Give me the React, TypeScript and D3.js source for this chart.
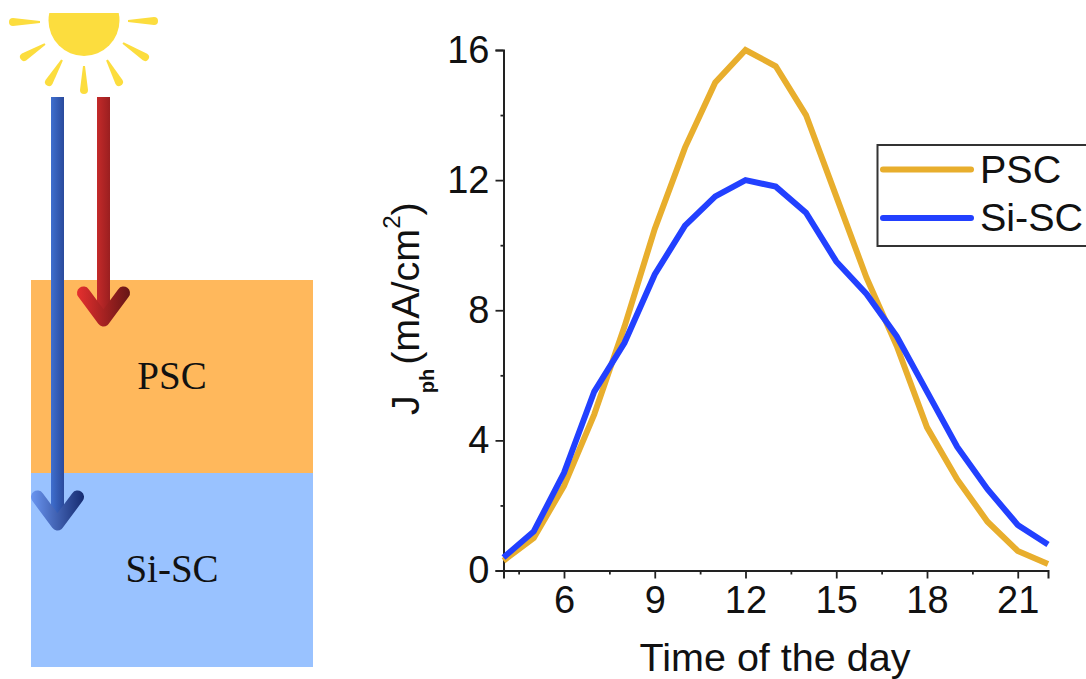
import React, { useEffect, useRef } from "react";
import * as d3 from "d3";

// hours of the day
const hours = [4, 5, 6, 7, 8, 9, 10, 11, 12, 13, 14, 15, 16, 17, 18, 19, 20, 21, 22];
const pscValues = [0.3, 1.0, 2.6, 4.8, 7.5, 10.5, 13.0, 15.0, 16.0, 15.5, 14.0, 11.5, 9.0, 6.9, 4.4, 2.8, 1.5, 0.6, 0.2];
const siValues = [0.4, 1.2, 3.0, 5.5, 7.0, 9.1, 10.6, 11.5, 12.0, 11.8, 11.0, 9.5, 8.5, 7.2, 5.5, 3.8, 2.5, 1.4, 0.8];
const xTicks = [6, 9, 12, 15, 18, 21];
const xMinorTicks = [4.5, 7.5, 10.5, 13.5, 16.5, 19.5];
const yTicks = [0, 4, 8, 12, 16];
const yMinorTicks = [2, 6, 10, 14];
const legendNames = ["PSC", "Si-SC"];
const lineColors = ["#E8AE2D", "#2240FF"];

// sun rays: outer end, inner tip
const rays = [
  [13, 22, 40, 22],
  [24, 57, 45, 44],
  [49, 82, 62, 60],
  [84, 90, 84, 66],
  [119, 82, 107, 60],
  [145, 57, 123, 43],
  [154, 21, 128, 21],
];

const font = "'Liberation Sans', Arial, sans-serif";
const serif = "'Liberation Serif', 'Times New Roman', serif";

function rayPath(r: number[]) {
  const [x1, y1, x2, y2] = r;
  const len = Math.hypot(x2 - x1, y2 - y1);
  const ux = (x2 - x1) / len;
  const uy = (y2 - y1) / len;
  const w = 4;
  const t = 1;
  return `M${x1 - uy * w},${y1 + ux * w} A${w},${w} 0 0 1 ${x1 + uy * w},${y1 - ux * w} L${x2 + uy * t},${y2 - ux * t} L${x2 - uy * t},${y2 + ux * t} Z`;
}

function Arrow({ x, top, tip, fill, head }: { x: number; top: number; tip: number; fill: string; head: string }) {
  return (
    <g>
      <rect x={x - 6.5} y={top} width={13} height={tip - top} fill={fill} />
      <path
        d={`M${x - 20},${tip - 27} L${x},${tip} L${x + 20},${tip - 27}`}
        fill="none"
        stroke={head}
        strokeWidth={13}
        strokeLinecap="round"
        strokeLinejoin="round"
      />
    </g>
  );
}

export default function App() {
  const chartRef = useRef<SVGGElement>(null);

  useEffect(() => {
    const g = d3.select(chartRef.current);
    g.selectAll("*").remove();

    const x = d3.scaleLinear().domain([4, 22]).range([503.5, 1048]);
    const y = d3.scaleLinear().domain([0, 16]).range([570.5, 50]);

    const xAxis = g.append("g").attr("transform", "translate(0,570.5)");
    xAxis.call(d3.axisBottom(x).tickValues(xTicks).tickSize(8).tickPadding(8).tickFormat(d3.format("d")));
    const xMinor = g.append("g").attr("transform", "translate(0,570.5)");
    xMinor.call(d3.axisBottom(x).tickValues(xMinorTicks).tickSize(4).tickFormat(() => ""));
    xMinor.select(".domain").remove();

    const yAxis = g.append("g").attr("transform", "translate(503.5,0)");
    yAxis.call(d3.axisLeft(y).tickValues(yTicks).tickSize(8).tickPadding(6).tickFormat(d3.format("d")));
    const yMinor = g.append("g").attr("transform", "translate(503.5,0)");
    yMinor.call(d3.axisLeft(y).tickValues(yMinorTicks).tickSize(3).tickFormat(() => ""));
    yMinor.select(".domain").remove();

    g.selectAll(".domain").attr("stroke", "#222").attr("stroke-width", 2);
    g.selectAll(".tick line").attr("stroke", "#222").attr("stroke-width", 1.8);
    g.selectAll(".tick text").attr("font-family", font).attr("font-size", 38).attr("fill", "#111");

    const line = d3
      .line<number>()
      .x((_, i) => x(hours[i]))
      .y((d) => y(d));

    [pscValues, siValues].forEach((vals, i) => {
      g.append("path")
        .attr("d", line(vals))
        .attr("fill", "none")
        .attr("stroke", lineColors[i])
        .attr("stroke-width", 6);
    });

    // legend
    g.append("rect")
      .attr("x", 877.5)
      .attr("y", 145)
      .attr("width", 220)
      .attr("height", 101)
      .attr("fill", "none")
      .attr("stroke", "#333")
      .attr("stroke-width", 2);
    legendNames.forEach((name, i) => {
      const ly = 169.5 + i * 48.5;
      g.append("line")
        .attr("x1", 883)
        .attr("x2", 971)
        .attr("y1", ly)
        .attr("y2", ly)
        .attr("stroke", lineColors[i])
        .attr("stroke-width", 6)
        .attr("stroke-linecap", "round");
      g.append("text")
        .attr("x", 980)
        .attr("y", ly + 13)
        .attr("font-family", font)
        .attr("font-size", 39.5)
        .attr("fill", "#111")
        .text(name);
    });

    // axis titles
    g.append("text")
      .attr("x", 775)
      .attr("y", 671)
      .attr("text-anchor", "middle")
      .attr("font-family", font)
      .attr("font-size", 39.5)
      .attr("fill", "#111")
      .text("Time of the day");
  }, []);

  return (
    <svg width={1086} height={679} style={{ position: "absolute", left: 0, top: 0 }}>
      <defs>
        <linearGradient id="blueBar" x1="0" x2="1" y1="0" y2="0">
          <stop offset="0" stopColor="#3F6FCF" />
          <stop offset="1" stopColor="#2A4A9C" />
        </linearGradient>
        <linearGradient id="blueHead" gradientUnits="userSpaceOnUse" x1="31" x2="85" y1="0" y2="0">
          <stop offset="0" stopColor="#6A95F0" />
          <stop offset="1" stopColor="#14296E" />
        </linearGradient>
        <linearGradient id="redBar" x1="0" x2="1" y1="0" y2="0">
          <stop offset="0" stopColor="#C42A2A" />
          <stop offset="1" stopColor="#9A1F20" />
        </linearGradient>
        <linearGradient id="redHead" gradientUnits="userSpaceOnUse" x1="76" x2="130" y1="0" y2="0">
          <stop offset="0" stopColor="#E8302F" />
          <stop offset="1" stopColor="#661515" />
        </linearGradient>
        <clipPath id="sunClip">
          <rect x={0} y={13} width={200} height={100} />
        </clipPath>
      </defs>

      <rect x={31} y={280} width={282} height={193} fill="#FFB85C" />
      <rect x={31} y={473} width={282} height={194} fill="#99C2FF" />
      <text x={172} y={389} textAnchor="middle" fontFamily={serif} fontSize={39} fill="#111">PSC</text>
      <text x={172} y={582} textAnchor="middle" fontFamily={serif} fontSize={39} fill="#111">Si-SC</text>

      <circle cx={84} cy={20.5} r={35.5} fill="#FCDD3E" clipPath="url(#sunClip)" />
      {rays.map((r, i) => (
        <path key={i} d={rayPath(r)} fill="#FCDD3E" />
      ))}

      <Arrow x={57.5} top={97} tip={524} fill="url(#blueBar)" head="url(#blueHead)" />
      <Arrow x={103.5} top={97} tip={320} fill="url(#redBar)" head="url(#redHead)" />

      <g ref={chartRef} />

      <text transform="translate(419,415) rotate(-90)" fontFamily={font} fontSize={39.5} fill="#111">
        J
        <tspan fontSize={20} fontWeight="bold" dx={2} dy={15}>ph</tspan>
        <tspan dx={4} dy={-15}>(mA/cm</tspan>
        <tspan fontSize={24} dy={-19}>2</tspan>
        <tspan dy={19}>)</tspan>
      </text>
    </svg>
  );
}
